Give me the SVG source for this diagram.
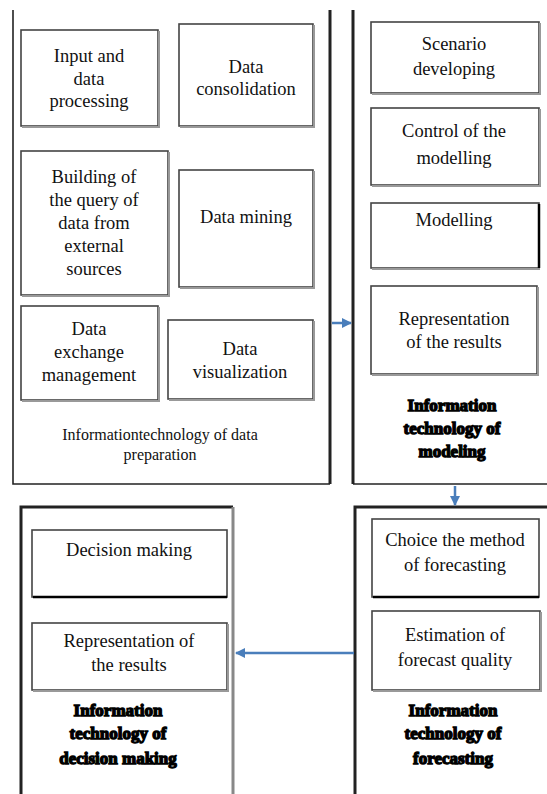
<svg xmlns="http://www.w3.org/2000/svg" width="547" height="794" viewBox="0 0 547 794">
<defs>
<marker id="ah" viewBox="0 0 10 10" refX="9" refY="5" markerWidth="4" markerHeight="4" orient="auto"><path d="M0,0 L10,5 L0,10 z" fill="#4a7ebb"/></marker>
<style>
.box{fill:#fff;stroke:#444;stroke-width:1.6}
.sh{fill:none;stroke:#999;stroke-width:2}
text{text-anchor:middle;fill:#111}
.t{font-size:18.5px}
.s{font-size:16px}
.b{font-size:17px;font-weight:bold;fill:#000;stroke:#000;stroke-width:1.3}
.pl{stroke:#222;fill:none}
.c{stroke:#4a7ebb;stroke-width:2.5;fill:none}
</style>
</defs>
<rect width="547" height="794" fill="#fff"/>
<g id="panel-prep">
<path class="pl" d="M13,10 V484 H330" stroke-width="1.6"/>
<path class="pl" d="M330,10 V484" stroke-width="3"/>
<text class="s" font-family="Liberation Serif" x="160" y="440">Informationtechnology of data</text>
<text class="s" font-family="Liberation Serif" x="160" y="460">preparation</text>
</g>
<g id="n-input">
<rect class="box" x="21" y="30" width="137" height="96"/>
<path class="sh" d="M22,127 H159 V31"/>
<text class="t" font-family="Liberation Serif" x="89" y="62">Input and</text>
<text class="t" font-family="Liberation Serif" x="89" y="85">data</text>
<text class="t" font-family="Liberation Serif" x="89" y="107">processing</text>
</g>
<g id="n-consol">
<rect class="box" x="179" y="24" width="134" height="102"/>
<path class="sh" d="M180,127 H314 V25"/>
<text class="t" font-family="Liberation Serif" x="246" y="73">Data</text>
<text class="t" font-family="Liberation Serif" x="246" y="95">consolidation</text>
</g>
<g id="n-query">
<rect class="box" x="21" y="151" width="147" height="144"/>
<path class="sh" d="M22,296 H169 V152"/>
<text class="t" font-family="Liberation Serif" x="94" y="183">Building of</text>
<text class="t" font-family="Liberation Serif" x="94" y="206">the query of</text>
<text class="t" font-family="Liberation Serif" x="94" y="229">data from</text>
<text class="t" font-family="Liberation Serif" x="94" y="252">external</text>
<text class="t" font-family="Liberation Serif" x="94" y="275">sources</text>
</g>
<g id="n-mining">
<rect class="box" x="179" y="170" width="134" height="117"/>
<path class="sh" d="M180,288 H314 V171"/>
<text class="t" font-family="Liberation Serif" x="246" y="223">Data mining</text>
</g>
<g id="n-exchange">
<rect class="box" x="21" y="306" width="137" height="94"/>
<path class="sh" d="M22,401 H159 V307"/>
<text class="t" font-family="Liberation Serif" x="89" y="335">Data</text>
<text class="t" font-family="Liberation Serif" x="89" y="358">exchange</text>
<text class="t" font-family="Liberation Serif" x="89" y="381">management</text>
</g>
<g id="n-visual">
<rect class="box" x="168" y="320" width="145" height="79"/>
<path class="sh" d="M169,400 H314 V321"/>
<text class="t" font-family="Liberation Serif" x="240" y="355">Data</text>
<text class="t" font-family="Liberation Serif" x="240" y="378">visualization</text>
</g>
<g id="panel-model">
<path class="pl" d="M353,10 V484" stroke-width="3"/>
<path class="pl" d="M353,484 H547" stroke-width="1.6"/>
<text class="b" font-family="Liberation Serif" x="452" y="411">Information</text>
<text class="b" font-family="Liberation Serif" x="452" y="434">technology of</text>
<text class="b" font-family="Liberation Serif" x="452" y="457">modeling</text>
</g>
<g id="n-scenario">
<rect class="box" x="371" y="22" width="168" height="71"/>
<path class="sh" d="M372,94 H540 V23"/>
<text class="t" font-family="Liberation Serif" x="454" y="50">Scenario</text>
<text class="t" font-family="Liberation Serif" x="454" y="75">developing</text>
</g>
<g id="n-control">
<rect class="box" x="371" y="108" width="168" height="77"/>
<path class="sh" d="M372,186 H540 V109"/>
<text class="t" font-family="Liberation Serif" x="454" y="137">Control of the</text>
<text class="t" font-family="Liberation Serif" x="454" y="164">modelling</text>
</g>
<g id="n-modelling">
<rect class="box" x="371" y="203" width="168" height="65"/>
<path d="M539,204 V268" stroke="#000" stroke-width="2.5"/>
<path class="sh" d="M372,269 H540"/>
<text class="t" font-family="Liberation Serif" x="454" y="226">Modelling</text>
</g>
<g id="n-repr1">
<rect class="box" x="371" y="286" width="166" height="88"/>
<path class="sh" d="M372,375 H538 V287"/>
<text class="t" font-family="Liberation Serif" x="454" y="325">Representation</text>
<text class="t" font-family="Liberation Serif" x="454" y="348">of the results</text>
</g>
<g id="panel-decision">
<path class="pl" d="M21,794 V507 H233" stroke-width="3"/>
<path d="M233,507 V794" stroke="#888" stroke-width="3"/>
<text class="b" font-family="Liberation Serif" x="118" y="716">Information</text>
<text class="b" font-family="Liberation Serif" x="118" y="739">technology of</text>
<text class="b" font-family="Liberation Serif" x="118" y="764">decision making</text>
</g>
<g id="n-decision">
<rect class="box" x="32" y="530" width="195" height="67"/>
<path d="M33,597 H227" stroke="#000" stroke-width="2.5"/>
<text class="t" font-family="Liberation Serif" x="129" y="556">Decision making</text>
</g>
<g id="n-repr2">
<rect class="box" x="32" y="623" width="195" height="67"/>
<path class="sh" d="M33,691 H228 V624"/>
<text class="t" font-family="Liberation Serif" x="129" y="647">Representation of</text>
<text class="t" font-family="Liberation Serif" x="129" y="671">the results</text>
</g>
<g id="panel-forecast">
<path class="pl" d="M355,794 V507 H547" stroke-width="3"/>
<text class="b" font-family="Liberation Serif" x="453" y="716">Information</text>
<text class="b" font-family="Liberation Serif" x="453" y="739">technology of</text>
<text class="b" font-family="Liberation Serif" x="453" y="764">forecasting</text>
</g>
<g id="n-choice">
<rect class="box" x="372" y="519" width="167" height="78"/>
<path d="M373,597 H539" stroke="#000" stroke-width="2.5"/>
<text class="t" font-family="Liberation Serif" x="455" y="546">Choice the method</text>
<text class="t" font-family="Liberation Serif" x="455" y="571">of forecasting</text>
</g>
<g id="n-estim">
<rect class="box" x="372" y="611" width="168" height="79"/>
<path class="sh" d="M373,691 H541 V612"/>
<text class="t" font-family="Liberation Serif" x="455" y="641">Estimation of</text>
<text class="t" font-family="Liberation Serif" x="455" y="666">forecast quality</text>
</g>
<g id="connectors">
<path class="c" d="M332,323 H351" marker-end="url(#ah)"/>
<path class="c" d="M455,486 V505" marker-end="url(#ah)"/>
<path class="c" d="M354,653 H236" marker-end="url(#ah)"/>
</g>
</svg>
